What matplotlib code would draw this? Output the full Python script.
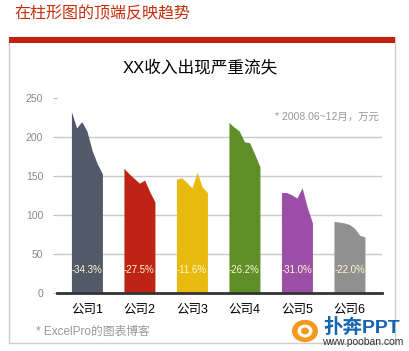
import matplotlib.pyplot as plt
from matplotlib.patches import Rectangle, Circle
import numpy as np

plt.rcParams['font.family'] = ['Liberation Sans', 'Noto Sans CJK SC']

# 2008.06 ~ 2008.12, 万元
companies = ['公司1', '公司2', '公司3', '公司4', '公司5', '公司6']
co1 = [233, 212, 220, 208, 183, 166, 153]
co2 = [160, 153, 147, 141, 145, 130, 117]
co3 = [146, 148, 142, 135, 155, 136, 129]
co4 = [219, 213, 208, 194, 193, 178, 162]
co5 = [129, 129, 126, 122, 135, 110, 90]
co6 = [92, 91, 90, 88, 83, 74, 72]
changes = ['-34.3%', '-27.5%', '-11.6%', '-26.2%', '-31.0%', '-22.0%']
colors = ['#525968', '#be2314', '#e8b90f', '#5e8e28', '#9b4fa6', '#909090']

W, H = 410, 351
fig = plt.figure(figsize=(W / 100, H / 100), dpi=100)

def px(x, y):
    # pixel (from top-left) -> figure fraction
    return x / W, 1 - y / H

# card frame + red strip
fig.patches.append(Rectangle(px(9, 343), 386 / W, 306 / H, transform=fig.transFigure,
                             fill=False, ec='#cfcbcf', lw=1))
fig.patches.append(Rectangle(px(9, 43), 386 / W, 6 / H, transform=fig.transFigure,
                             fc='#c4220f', ec='none'))

fig.text(*px(14, 14), '在柱形图的顶端反映趋势', color='#c4300c', fontsize=11.5,
         ha='left', va='center')
fig.text(*px(200, 67), 'XX收入出现严重流失', color='black', fontsize=12,
         ha='center', va='center')
fig.text(*px(379, 117), '* 2008.06~12月，万元', color='#999999', fontsize=7.5,
         ha='right', va='center')
fig.text(*px(36, 332), '* ExcelPro的图表博客', color='#999999', fontsize=8.5,
         ha='left', va='center')

ax = fig.add_axes([57 / W, 58 / H, 325 / W, 194.7 / H])

w = 0.59
series = [co1, co2, co3, co4, co5, co6]
for i, vals in enumerate(series):
    x = i + np.linspace(-w / 2, w / 2, len(vals))
    ax.fill_between(x, 0, vals, color=colors[i], lw=0, zorder=2)
    ax.text(i, 30, changes[i], ha='center', va='center', color='#fffbd0',
            fontsize=7, zorder=3)

ax.set_xlim(-0.57, 5.62)
ax.set_ylim(0, 250)
ax.set_yticks([0, 50, 100, 150, 200, 250])
ax.set_xticks(range(len(companies)))
ax.set_xticklabels(companies, fontsize=9, color='black')

for s in ['top', 'right', 'left']:
    ax.spines[s].set_visible(False)
ax.spines['bottom'].set_color('#333333')
ax.spines['bottom'].set_linewidth(2)
ax.spines['bottom'].set_zorder(4)

ax.tick_params(axis='x', length=0, pad=8)
ax.tick_params(axis='y', length=3, color='#bbbbbb', pad=7, labelsize=7.5,
               labelcolor='#888888')
ax.yaxis.grid(True, color='#cdc8cd', lw=1, zorder=0)
ax.set_axisbelow(True)
ax.get_ygridlines()[-1].set_visible(False)
ax.get_ygridlines()[0].set_visible(False)

# watermark logo
fig.patches.append(Circle(px(305, 331), 13 / W, transform=fig.transFigure,
                          fc='#f39a1c', ec='none'))
fig.patches.append(Circle(px(305, 331), 7.5 / W, transform=fig.transFigure,
                          fc='white', ec='none'))
fig.patches.append(Circle(px(305, 331), 4 / W, transform=fig.transFigure,
                          fc='#f39a1c', ec='none'))
fig.text(*px(323, 327), '扑奔PPT', color='#1565b0', fontsize=14,
         fontweight='bold', ha='left', va='center')
fig.text(*px(322, 342), 'www.pooban.com', color='#333333', fontsize=7.5,
         ha='left', va='center')

fig.savefig('out.png', dpi=100)
